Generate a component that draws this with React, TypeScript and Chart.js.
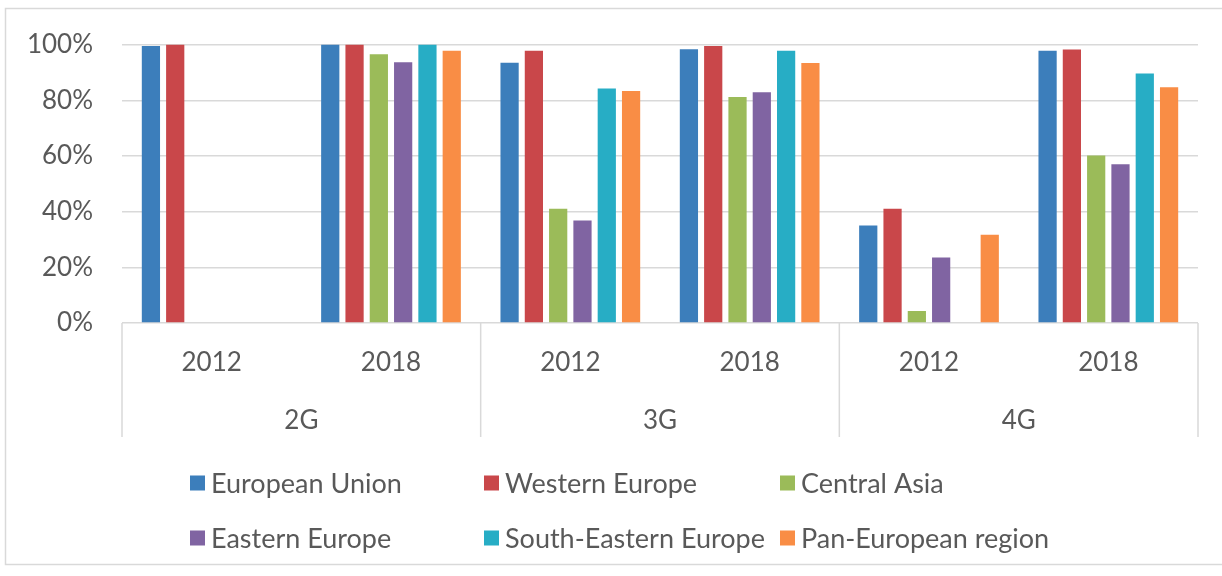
import React, { useEffect, useRef } from "react";
import { Chart, registerables } from "chart.js";

Chart.register(...registerables);

// ---- data ----
const categories = ["2012", "2018", "2012", "2018", "2012", "2018"];
const groups = ["2G", "3G", "4G"];
const seriesNames = [
  "European Union",
  "Western Europe",
  "Central Asia",
  "Eastern Europe",
  "South-Eastern Europe",
  "Pan-European region",
];
const europeanUnion = [99.5, 100, 93.5, 98.3, 35, 97.8];
const westernEurope = [100, 100, 97.8, 99.5, 41, 98.2];
const centralAsia = [null, 96.5, 41, 81.2, 4.3, 60.2];
const easternEurope = [null, 93.7, 36.8, 82.9, 23.5, 57];
const southEasternEurope = [null, 100, 84.2, 97.8, null, 89.6];
const panEuropeanRegion = [null, 97.8, 83.3, 93.4, 31.7, 84.7];
const seriesValues = [
  europeanUnion,
  westernEurope,
  centralAsia,
  easternEurope,
  southEasternEurope,
  panEuropeanRegion,
];
const seriesColors = ["#3C7EBB", "#C9474A", "#9BBB59", "#8064A2", "#27ADC5", "#F98D45"];
const yMin = 0;
const yMax = 100;
const yStep = 20;

// ---- style ----
const FONT = "Lato, 'Open Sans', sans-serif";
const TEXT = "#595959";
const GRID = "#D9D9D9";
const FONT_SIZE = 26;
const LEGEND_FONT_SIZE = 27;

const decorPlugin = {
  id: "decor",
  beforeDraw(chart: any) {
    const ctx = chart.ctx;
    ctx.save();
    ctx.fillStyle = "#ffffff";
    ctx.fillRect(0, 0, chart.width, chart.height);
    ctx.strokeStyle = GRID;
    ctx.lineWidth = 1.5;
    ctx.strokeRect(5.5, 8.5, 1240, 556);
    ctx.restore();
  },
  afterDraw(chart: any) {
    const ctx = chart.ctx;
    const xs = chart.scales.x;
    const area = chart.chartArea;
    const labels: string[] = chart.data.labels;
    const n = labels.length;
    const px = (i: number) => xs.getPixelForValue(i);
    const half = (px(1) - px(0)) / 2;
    const per = n / groups.length;

    ctx.save();
    // separators of the multi-level category axis
    ctx.strokeStyle = GRID;
    ctx.lineWidth = 1.5;
    const bounds: number[] = [];
    for (let g = 0; g <= groups.length; g++) {
      const i = g * per;
      bounds.push(i < n ? px(i) - half : px(n - 1) + half);
    }
    bounds.forEach((b) => {
      ctx.beginPath();
      ctx.moveTo(b, area.bottom);
      ctx.lineTo(b, area.bottom + 114);
      ctx.stroke();
    });

    ctx.fillStyle = TEXT;
    ctx.font = `${FONT_SIZE}px ${FONT}`;
    ctx.textAlign = "center";
    ctx.textBaseline = "middle";
    labels.forEach((l, i) => ctx.fillText(l, px(i), area.bottom + 40));
    groups.forEach((g, k) => ctx.fillText(g, (bounds[k] + bounds[k + 1]) / 2, area.bottom + 98));

    // legend (3 columns x 2 rows)
    const cols = [190, 484, 780];
    const rows = [483, 538];
    ctx.textAlign = "left";
    ctx.font = `${LEGEND_FONT_SIZE}px ${FONT}`;
    chart.data.datasets.forEach((ds: any, i: number) => {
      const x = cols[i % 3];
      const y = rows[Math.floor(i / 3)];
      ctx.fillStyle = ds.backgroundColor;
      ctx.fillRect(x, y - 7.5, 15, 15);
      ctx.fillStyle = TEXT;
      ctx.fillText(ds.label, x + 21, y + 1);
    });
    ctx.restore();
  },
};

export default function App() {
  const ref = useRef<HTMLCanvasElement>(null);

  useEffect(() => {
    if (!ref.current) return;
    const chart = new Chart(ref.current, {
      type: "bar",
      data: {
        labels: categories,
        datasets: seriesNames.map((name, i) => ({
          label: name,
          data: seriesValues[i],
          backgroundColor: seriesColors[i],
          borderWidth: 0,
          categoryPercentage: 0.813,
          barPercentage: 0.75,
        })),
      },
      options: {
        animation: false,
        responsive: false,
        devicePixelRatio: 1,
        layout: { padding: { top: 44, left: 0, right: 24, bottom: 0 } },
        plugins: {
          legend: { display: false },
          tooltip: { enabled: false },
        },
        scales: {
          x: {
            ticks: { display: false },
            grid: { display: false },
            border: { display: false },
            afterFit(scale: any) {
              scale.height = 253;
            },
          },
          y: {
            min: yMin,
            max: yMax,
            ticks: {
              stepSize: yStep,
              padding: 29,
              color: TEXT,
              font: { family: FONT, size: FONT_SIZE },
              callback: (v: any) => `${v}%`,
            },
            grid: { color: GRID, lineWidth: 1.5, drawTicks: false },
            border: { display: false },
            afterFit(scale: any) {
              scale.width = 122;
            },
          },
        },
      },
      plugins: [decorPlugin],
    });
    return () => chart.destroy();
  }, []);

  return (
    <div style={{ position: "fixed", left: 0, top: 0, width: 1222, height: 576, background: "#fff" }}>
      <canvas ref={ref} width={1222} height={576} style={{ display: "block" }} />
    </div>
  );
}
